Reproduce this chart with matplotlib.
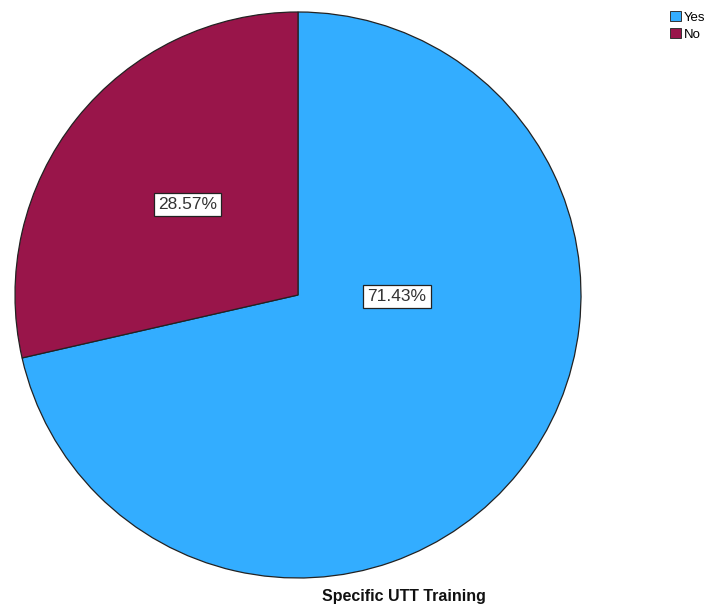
import matplotlib
matplotlib.use("Agg")
import matplotlib.pyplot as plt
from matplotlib.patches import Patch

categories = ["Yes", "No"]
percents = [71.43, 28.57]
colors = ["#33adff", "#99154a"]
title = "Specific UTT Training"

plt.rcParams['font.family'] = ['Liberation Sans', 'DejaVu Sans']

W, H = 719, 608
fig = plt.figure(figsize=(W / 100, H / 100), dpi=100)
fig.patch.set_facecolor("white")

# pie box in pixels: centre (298, 295), radius 283
cx, cy, r = 298, 295, 283
ax = fig.add_axes([(cx - r) / W, (H - cy - r) / H, 2 * r / W, 2 * r / H])
wedges, _ = ax.pie(percents, colors=colors, startangle=90, counterclock=False,
                   wedgeprops=dict(edgecolor="#222222", linewidth=0.9))
ax.set_xlim(-1, 1)
ax.set_ylim(-1, 1)
ax.set_aspect("equal")
ax.axis("off")

# label positions (SPSS style placement)
label_pos = [(0.35, -0.005), (-0.39, 0.32)]
for (x, y), p in zip(label_pos, percents):
    ax.text(x, y, f"{p:.2f}%", ha="center", va="center", fontsize=12.5,
            color="#333333",
            bbox=dict(boxstyle="square,pad=0.25", facecolor="white",
                      edgecolor="#222222", linewidth=0.9))

fig.text(404 / W, 1 - 596 / H, title, ha="center", va="center",
         fontsize=11.5, fontweight="bold", color="#111111")

handles = [Patch(facecolor=c, edgecolor="#333333", linewidth=0.7) for c in colors]
fig.legend(handles, categories, loc="upper left", bbox_to_anchor=(670 / W, 1 - 11 / H),
           frameon=False, fontsize=9.5, handlelength=0.8, handleheight=0.8,
           handletextpad=0.25, labelspacing=0.35, borderpad=0, borderaxespad=0)

fig.savefig("out.png", dpi=100, facecolor="white")
